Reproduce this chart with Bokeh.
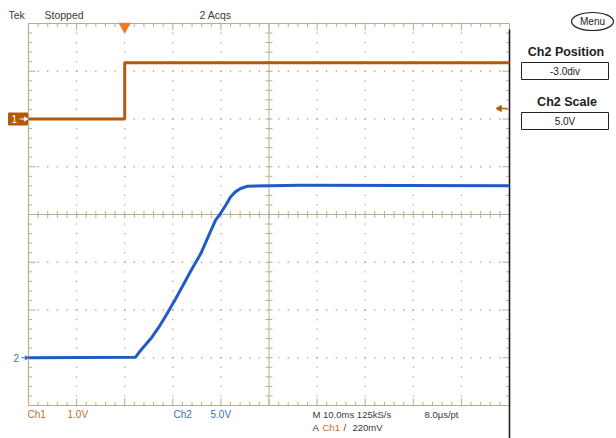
import numpy as np
from bokeh.plotting import figure
from bokeh.models import Range1d
from bokeh.core.properties import value
from bokeh.embed import file_html
from bokeh.resources import INLINE

ch1_time_ms = [-20.0, 0.0, 0.0, 80.0]
ch1_volts = [0.0, 0.0, 1.18, 1.18]

ch2_time_ms = [-20.0, 2.25, 3.3, 5.4, 7.1, 8.8, 10.6, 12.3, 14.0, 15.8, 17.5, 18.9,
               19.9, 21.0, 22.0, 23.0, 24.1, 25.5, 36.5, 80.0]
ch2_volts = [0.0, 0.06, 0.76, 1.98, 3.2, 4.6, 6.17, 7.74, 9.32, 10.88, 12.83, 14.4,
             15.1, 15.97, 16.84, 17.37, 17.72, 17.96, 18.05, 18.0]

ch1_volts_per_div = 1.0
ch1_offset_div = 2.0
ch2_volts_per_div = 5.0
ch2_offset_div = -3.0
ms_per_div = 10.0
trigger_offset_div = -3.0
trigger_level_v = 0.22

header_texts = ["Tek", "Stopped", "2 Acqs"]
bottom_row1 = ["Ch1", "1.0V", "Ch2", "5.0V", "M 10.0ms 125kS/s", "8.0\u00b5s/pt"]
bottom_row2 = ["A", "Ch1", "/", "220mV"]
side_texts = ["Menu", "Ch2 Position", "-3.0div", "Ch2 Scale", "5.0V"]

# ---------------- layout ----------------
W, H = 616, 438
GL, GT = 28, 23          # graticule top-left corner in canvas px
PX, PY = 48.1, 47.75     # px per division
xs = -5 - GL / PX
xe = xs + W / PX
ye = 4 + GT / PY
ys = ye - H / PY

def X(px):  # canvas px -> div
    return xs + px / PX

def Y(py):
    return ye - py / PY

p = figure(width=W, height=H, x_range=Range1d(xs, xe), y_range=Range1d(ys, ye),
           output_backend="svg", toolbar_location=None, min_border=0,
           x_axis_location=None, y_axis_location=None)
p.xgrid.visible = False
p.ygrid.visible = False
p.outline_line_color = None
p.background_fill_color = "white"
p.border_fill_color = "white"

p.extra_x_ranges = {"time": Range1d((xs - trigger_offset_div) * ms_per_div,
                                    (xe - trigger_offset_div) * ms_per_div)}
p.extra_y_ranges = {
    "ch1": Range1d((ys - ch1_offset_div) * ch1_volts_per_div, (ye - ch1_offset_div) * ch1_volts_per_div),
    "ch2": Range1d((ys - ch2_offset_div) * ch2_volts_per_div, (ye - ch2_offset_div) * ch2_volts_per_div),
}

GRAT = "#B8AF8E"
DOT = "#ABA9A0"
FONT = value("Liberation Sans")
TXT = "#3a3a3a"
ORANGE = "#B35A0A"
ORANGE_T = "#B8722E"
BLUE = "#1F5CC4"
BLUE_T = "#3C6DB8"

# dotted grid
dx, dy = [], []
for gx in [-4, -3, -2, -1, 1, 2, 3, 4]:
    for yy in np.arange(-4, 4.01, 0.2):
        dx.append(gx); dy.append(yy)
for gy in [-3, -2, -1, 1, 2, 3]:
    for xx in np.arange(-5, 5.01, 0.2):
        dx.append(xx); dy.append(gy)
p.rect(x=dx, y=dy, width=1.3 / PX, height=1.3 / PY, fill_color=DOT, line_color=None)

# center cross
p.segment(x0=[-5, 0], y0=[0, -4], x1=[5, 0], y1=[0, 4], line_color=GRAT, line_width=1)
tx = np.arange(-5, 5.01, 0.2)
ty = np.arange(-4, 4.01, 0.2)
p.segment(x0=tx, y0=-3.5 / PY, x1=tx, y1=3.5 / PY, line_color=GRAT, line_width=1)
p.segment(x0=-3.5 / PX, y0=ty, x1=3.5 / PX, y1=ty, line_color=GRAT, line_width=1)

# border ticks
def blen(v, minor, major):
    return major if abs(v - round(v)) < 1e-6 else minor
tl = [blen(v, 3.5, 7) for v in tx]
p.segment(x0=tx, y0=4, x1=tx, y1=[4 - l / PY for l in tl], line_color=GRAT)
p.segment(x0=tx, y0=-4, x1=tx, y1=[-4 + l / PY for l in tl], line_color=GRAT)
vl = [blen(v, 3.5, 7) for v in ty]
p.segment(x0=-5, y0=ty, x1=[-5 + l / PX for l in vl], y1=ty, line_color=GRAT)
p.segment(x0=5, y0=ty, x1=[5 - l / PX for l in vl], y1=ty, line_color=GRAT)

# border
p.segment(x0=[-5, -5, -5], y0=[4, -4, -4], x1=[5, 5, -5], y1=[4, -4, 4], line_color=GRAT, line_width=1.2)
p.segment(x0=[5], y0=[Y(29)], x1=[5], y1=[Y(440)], line_color="#1e1e1e", line_width=1.6)

# traces
p.line(x=ch1_time_ms, y=ch1_volts, x_range_name="time", y_range_name="ch1",
       line_color=ORANGE, line_width=3)
p.line(x=ch2_time_ms, y=ch2_volts, x_range_name="time", y_range_name="ch2",
       line_color=BLUE, line_width=3, line_join="round")

# trigger position marker
p.scatter(x=[0.0], y=[4 - 3 / PY], x_range_name="time", marker="inverted_triangle",
          size=11, fill_color="#F07A22", line_color="#F07A22")
# trigger level arrow
p.segment(x0=[X(498)], y0=[trigger_level_v], x1=[X(507)], y1=[trigger_level_v],
          y_range_name="ch1", line_color=ORANGE, line_width=1.5)
p.scatter(x=[X(499)], y=[trigger_level_v], y_range_name="ch1", marker="triangle",
          angle=np.pi / 2, size=6, fill_color=ORANGE, line_color=ORANGE)

# channel ground markers
p.rect(x=[X(17.5)], y=[ch1_offset_div], width=19 / PX, height=12 / PY,
       fill_color=ORANGE, line_color=ORANGE)
p.text(x=[X(11)], y=[ch1_offset_div], text=["1"], text_font=FONT, text_font_size="10px",
       text_color="white", text_baseline="middle", text_align="left")
p.segment(x0=[X(19)], y0=[ch1_offset_div], x1=[X(26)], y1=[ch1_offset_div], line_color="white", line_width=1)
p.scatter(x=[X(25)], y=[ch1_offset_div], marker="triangle", angle=-np.pi / 2, size=4,
          fill_color="white", line_color="white")

p.text(x=[X(13)], y=[ch2_offset_div], text=["2"], text_font=FONT, text_font_size="10px",
       text_color=BLUE_T, text_baseline="middle", text_align="left")
p.segment(x0=[X(21)], y0=[ch2_offset_div], x1=[X(28)], y1=[ch2_offset_div], line_color=BLUE_T, line_width=1)
p.scatter(x=[X(26)], y=[ch2_offset_div], marker="triangle", angle=-np.pi / 2, size=4,
          fill_color=BLUE_T, line_color=BLUE_T)

def txt(x, y, s, color=TXT, size="10px", style="normal", align="left"):
    p.text(x=[X(x)], y=[Y(y)], text=[s], text_font=FONT, text_font_size=size,
           text_font_style=style, text_color=color, text_baseline="middle", text_align=align)

# header
txt(8, 14, header_texts[0], size="10.5px")
txt(44, 14, header_texts[1], size="10.5px")
txt(199, 14, header_texts[2], size="10.5px")

# side panel
p.ellipse(x=[X(592)], y=[Y(21)], width=42 / PX, height=18 / PY, fill_color="white",
          line_color="#222222", line_width=1.2)
txt(592, 21, side_texts[0], size="10px", align="center", color="#222222")
txt(565.5, 51, side_texts[1], size="12.5px", style="bold", align="center", color="#222222")
p.rect(x=[X(564.5)], y=[Y(70.5)], width=87 / PX, height=17 / PY, fill_color="white",
       line_color="#222222", line_width=1)
txt(564.5, 71, side_texts[2], size="10px", align="center", color="#222222")
txt(566.5, 101, side_texts[3], size="12.5px", style="bold", align="center", color="#222222")
p.rect(x=[X(564.5)], y=[Y(120.5)], width=87 / PX, height=17 / PY, fill_color="white",
       line_color="#222222", line_width=1)
txt(564.5, 121, side_texts[4], size="10px", align="center", color="#222222")

# bottom rows
txt(27, 414, bottom_row1[0], color=ORANGE_T, size="10px")
txt(67, 414, bottom_row1[1], color=ORANGE_T, size="10px")
txt(173, 414, bottom_row1[2], color=BLUE_T, size="10px")
txt(210, 414, bottom_row1[3], color=BLUE_T, size="10px")
txt(312, 414, bottom_row1[4], size="9.5px")
txt(424, 414, bottom_row1[5], size="9.5px")
txt(312, 427, bottom_row2[0], size="9.5px")
txt(322, 427, bottom_row2[1], color=ORANGE_T, size="9.5px")
txt(343, 427, bottom_row2[2], size="9.5px")
txt(352, 427, bottom_row2[3], size="9.5px")

open("out.html", "w").write(file_html(p, INLINE))
